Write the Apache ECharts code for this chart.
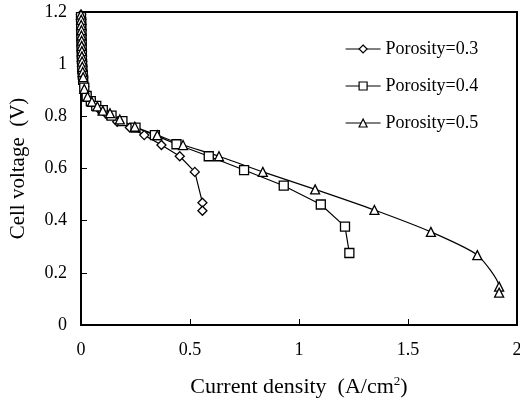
<!DOCTYPE html>
<html>
<head>
<meta charset="utf-8">
<script src="https://cdn.jsdelivr.net/npm/echarts@6/dist/echarts.min.js"></script>
<style>html,body{margin:0;padding:0;background:#fff}#c{width:520px;height:399px}</style>
</head>
<body>
<div id="c"></div>
<script>
var seriesNames = ['Porosity=0.3', 'Porosity=0.4', 'Porosity=0.5'];
var xTicks = [0, 0.5, 1, 1.5, 2];
var yTicks = [0, 0.2, 0.4, 0.6, 0.8, 1, 1.2];

var porosity03 = [[0,1.19],[0.001,1.17],[0.001,1.15],[0.002,1.13],[0.002,1.11],[0.003,1.09],[0.003,1.07],[0.004,1.05],[0.004,1.03],[0.005,1.01],[0.006,0.99],[0.008,0.97],[0.01,0.95],[0.015,0.915],[0.025,0.885],[0.04,0.862],[0.06,0.843],[0.085,0.826],[0.12,0.806],[0.166,0.779],[0.224,0.757],[0.29,0.728],[0.369,0.69],[0.453,0.647],[0.522,0.587],[0.557,0.469],[0.557,0.438]];
var porosity04 = [[0,1.18],[0.001,1.16],[0.001,1.14],[0.002,1.12],[0.002,1.10],[0.003,1.08],[0.003,1.06],[0.004,1.04],[0.004,1.02],[0.005,1.00],[0.006,0.98],[0.008,0.96],[0.01,0.94],[0.015,0.91],[0.026,0.878],[0.045,0.858],[0.07,0.84],[0.1,0.824],[0.14,0.803],[0.19,0.782],[0.25,0.757],[0.339,0.728],[0.438,0.693],[0.586,0.647],[0.748,0.594],[0.93,0.534],[1.10,0.462],[1.211,0.377],[1.231,0.276]];
var porosity05 = [[0,1.19],[0.001,1.17],[0.001,1.15],[0.002,1.13],[0.002,1.11],[0.003,1.09],[0.003,1.07],[0.004,1.05],[0.004,1.03],[0.005,1.01],[0.006,0.99],[0.008,0.97],[0.01,0.95],[0.015,0.905],[0.03,0.875],[0.05,0.856],[0.075,0.838],[0.1,0.822],[0.133,0.812],[0.178,0.788],[0.247,0.760],[0.35,0.728],[0.468,0.69],[0.633,0.647],[0.834,0.587],[1.074,0.52],[1.346,0.441],[1.605,0.357],[1.818,0.268],[1.918,0.147],[1.918,0.124]];

var font = 'Liberation Serif, Times New Roman, serif';
var chart = echarts.init(document.getElementById('c'), null, {renderer: 'canvas'});

function mkSeries(name, data, symbol, smooth) {
  return {
    name: name, type: 'line', data: data, symbol: symbol, symbolSize: 9,
    smooth: smooth, showAllSymbol: true, clip: true,
    lineStyle: {color: '#000', width: 1.2},
    itemStyle: {color: '#fff', borderColor: '#000', borderWidth: 1.3},
    emphasis: {disabled: true}
  };
}

chart.setOption({
  animation: false,
  backgroundColor: '#fff',
  grid: {left: 81, right: 3, top: 12, bottom: 74, show: true, borderColor: '#000', borderWidth: 2, backgroundColor: 'transparent', containLabel: false, outerBoundsMode: 'none'},
  legend: {
    orient: 'vertical', left: 340, top: 35, itemWidth: 35, itemHeight: 10, itemGap: 19,
    data: seriesNames.map(function (n) {
      return {name: n, itemStyle: {color: '#fff', borderColor: '#000', borderWidth: 1.2}, lineStyle: {color: '#000', width: 1.2}};
    }),
    textStyle: {fontFamily: font, fontSize: 18, color: '#000'}
  },
  xAxis: {
    type: 'value', min: xTicks[0], max: xTicks[xTicks.length - 1], interval: 0.5,
    name: 'Current density  (A/cm{sup|2})', nameLocation: 'middle', nameGap: 50,
    nameTextStyle: {fontFamily: font, fontSize: 22, color: '#000',
      rich: {sup: {fontFamily: font, fontSize: 13, color: '#000', verticalAlign: 'bottom', padding: [0, 0, 12, 0]}}},
    axisLine: {lineStyle: {color: '#000', width: 2}},
    axisTick: {inside: true, length: 6, lineStyle: {color: '#000', width: 1}},
    axisLabel: {fontFamily: font, fontSize: 18, color: '#000', margin: 16},
    splitLine: {show: false}
  },
  yAxis: {
    type: 'value', min: yTicks[0], max: yTicks[yTicks.length - 1], interval: 0.2,
    name: 'Cell voltage  (V)', nameLocation: 'middle', nameGap: 52,
    nameTextStyle: {fontFamily: font, fontSize: 21, color: '#000'},
    axisLine: {lineStyle: {color: '#000', width: 2}},
    axisTick: {inside: true, length: 6, lineStyle: {color: '#000', width: 1}},
    axisLabel: {fontFamily: font, fontSize: 18, color: '#000', margin: 14},
    splitLine: {show: false}
  },
  series: [
    mkSeries(seriesNames[0], porosity03, 'diamond', false),
    mkSeries(seriesNames[1], porosity04, 'rect', false),
    mkSeries(seriesNames[2], porosity05, 'triangle', 0.2)
  ]
});
</script>
</body>
</html>
